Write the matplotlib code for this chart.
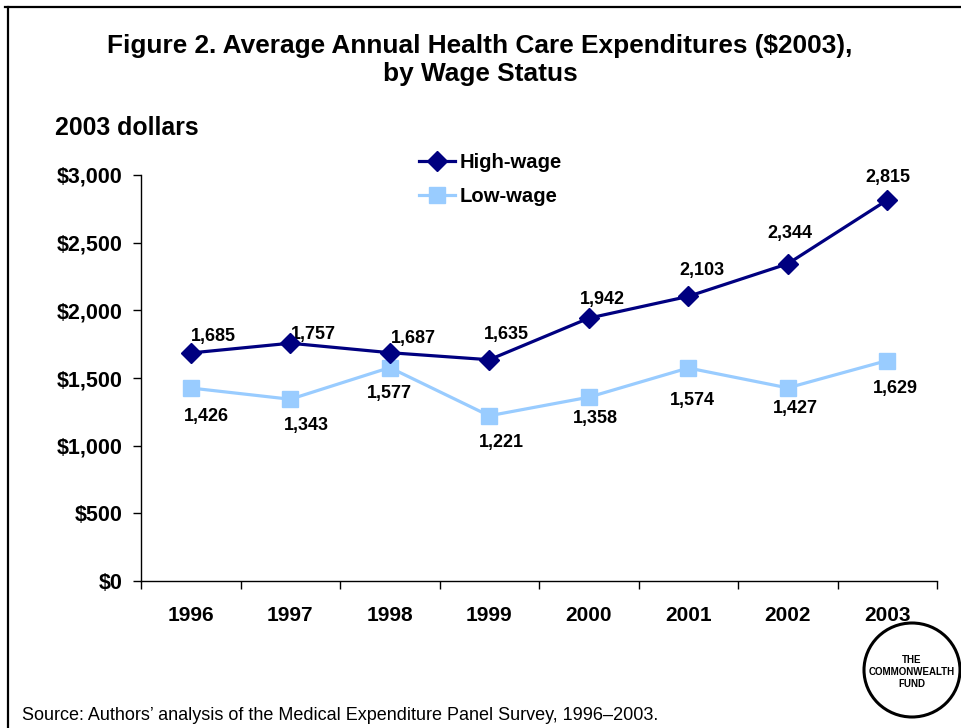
import matplotlib
matplotlib.use("Agg")
import matplotlib.pyplot as plt
from matplotlib.lines import Line2D
from matplotlib.patches import Ellipse

plt.rcParams["font.family"] = ["Liberation Sans", "DejaVu Sans"]
plt.rcParams["font.weight"] = "bold"

years = ["1996", "1997", "1998", "1999", "2000", "2001", "2002", "2003"]
high_wage = [1685, 1757, 1687, 1635, 1942, 2103, 2344, 2815]
low_wage = [1426, 1343, 1577, 1221, 1358, 1574, 1427, 1629]
y_ticks = [0, 500, 1000, 1500, 2000, 2500, 3000]

# label offsets in pixels (dx, dy), hand placed so labels clear the lines
high_offsets = [(23, 18), (23, 11), (24, 16), (17, 27), (14, 21), (14, 28), (2, 32), (1, 25)]
low_offsets = [(16, -27), (16, -25), (0, -25), (12, -26), (7, -20), (4, -32), (8, -20), (8, -27)]

HIGH_COLOR = "#000080"
LOW_COLOR = "#99CCFF"

fig = plt.figure(figsize=(9.61, 7.28), dpi=100)
ax = fig.add_axes([141 / 961, 1 - 581 / 728, (937 - 141) / 961, (581 - 175) / 728])

x = range(len(years))
ax.plot(x, high_wage, color=HIGH_COLOR, lw=2.3, marker="D", ms=10, zorder=4)
ax.plot(x, low_wage, color=LOW_COLOR, lw=2.3, marker="s", ms=12, zorder=3)

for i, v in enumerate(high_wage):
    dx, dy = high_offsets[i]
    ax.annotate(f"{v:,}", (i, v), xytext=(dx, dy - 2), textcoords="offset pixels",
                ha="center", va="center", fontsize=13, fontweight="bold")
for i, v in enumerate(low_wage):
    dx, dy = low_offsets[i]
    ax.annotate(f"{v:,}", (i, v), xytext=(dx, dy - 1), textcoords="offset pixels",
                ha="center", va="center", fontsize=13, fontweight="bold")

ax.set_xlim(-0.5, len(years) - 0.5)
ax.set_ylim(0, 3000)
ax.set_yticks(y_ticks)
ax.set_yticklabels([f"${v:,}" for v in y_ticks], fontsize=15.5, fontweight="bold")
ax.set_xticks(list(x))
ax.set_xticklabels(years, fontsize=15, fontweight="bold")
ax.set_xticks([i - 0.5 for i in range(len(years) + 1)], minor=True)
ax.tick_params(axis="x", which="major", length=0, pad=18)
ax.tick_params(axis="x", which="minor", length=6, width=1, direction="out")
ax.tick_params(axis="y", length=6, width=1, direction="out", pad=7)
for side in ("top", "right"):
    ax.spines[side].set_visible(False)
for side in ("left", "bottom"):
    ax.spines[side].set_linewidth(1)

handles = [
    Line2D([], [], color=HIGH_COLOR, lw=2.3, marker="D", ms=10),
    Line2D([], [], color=LOW_COLOR, lw=2.3, marker="s", ms=12),
]
fig.legend(handles, ["High-wage", "Low-wage"], loc="upper left",
           bbox_to_anchor=(419 / 961, 1 - 153 / 728), frameon=False,
           prop={"size": 14.6, "weight": "bold"}, handlelength=1.77,
           handletextpad=0.25, labelspacing=0.76, borderaxespad=0, borderpad=0)

fig.text(480 / 961, 1 - 46 / 728, "Figure 2. Average Annual Health Care Expenditures ($2003),",
         ha="center", va="center", fontsize=18.9, fontweight="bold")
fig.text(480 / 961, 1 - 74 / 728, "by Wage Status",
         ha="center", va="center", fontsize=18.9, fontweight="bold")
fig.text(55 / 961, 1 - 128 / 728, "2003 dollars", ha="left", va="center",
         fontsize=17.9, fontweight="bold")
fig.text(22 / 961, 1 - 716 / 728,
         "Source: Authors\u2019 analysis of the Medical Expenditure Panel Survey, 1996\u20132003.",
         ha="left", va="center", fontsize=13, fontweight="normal")

# page frame: top and left rules
fig.add_artist(Line2D([5 / 961, 1], [1 - 7 / 728] * 2, color="black", lw=1.6))
fig.add_artist(Line2D([8 / 961] * 2, [0, 1 - 7 / 728], color="black", lw=1.6))

# fund logo
fig.add_artist(Ellipse((912 / 961, 1 - 670 / 728), 96 / 961, 94 / 728,
                       facecolor="white", edgecolor="black", lw=2.2,
                       transform=fig.transFigure))
fig.text(912 / 961, 1 - 672 / 728, "THE\nCOMMONWEALTH\nFUND", ha="center", va="center",
         fontsize=7, fontweight="bold", linespacing=1.2)

fig.savefig("out.png", dpi=100, facecolor="white")
